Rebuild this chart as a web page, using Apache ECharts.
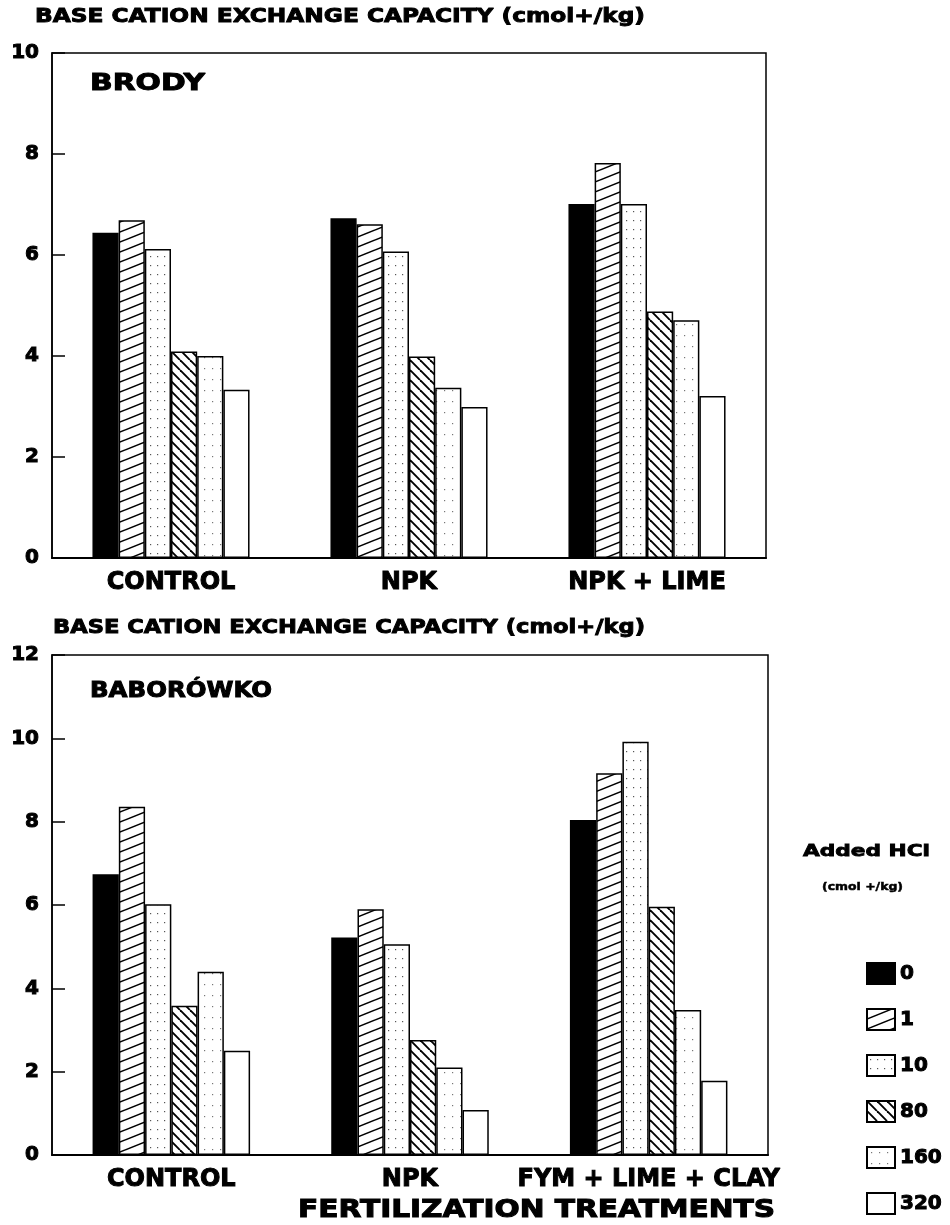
<!DOCTYPE html>
<html>
<head>
<meta charset="utf-8">
<script src="https://cdn.jsdelivr.net/npm/echarts@6/dist/echarts.min.js"></script>
<style>html,body{margin:0;padding:0;background:#fff;}#c{width:950px;height:1225px;}</style>
</head>
<body>
<div id="c"></div>
<script>
// ---- data ----
const hclLevels = ['0', '1', '10', '80', '160', '320'];
const brodyCategories = ['CONTROL', 'NPK', 'NPK + LIME'];
const baborowkoCategories = ['CONTROL', 'NPK', 'FYM + LIME + CLAY'];
// Brody values per HCl level (CONTROL, NPK, NPK + LIME)
const brody0   = [6.44, 6.73, 7.01];
const brody1   = [6.69, 6.61, 7.82];
const brody10  = [6.12, 6.07, 7.01];
const brody80  = [4.09, 3.99, 4.88];
const brody160 = [4.00, 3.37, 4.71];
const brody320 = [3.33, 2.99, 3.21];
// Baborówko values per HCl level (CONTROL, NPK, FYM + LIME + CLAY)
const babo0   = [6.74, 5.22, 8.04];
const babo1   = [8.36, 5.90, 9.16];
const babo10  = [6.02, 5.06, 9.92];
const babo80  = [3.58, 2.76, 5.96];
const babo160 = [4.40, 2.10, 3.48];
const babo320 = [2.50, 1.08, 1.78];
const brodyTicks = [0, 2, 4, 6, 8, 10];
const baboTicks = [0, 2, 4, 6, 8, 10, 12];

// ---- patterns ----
function makeCanvas(w, h) { const c = document.createElement('canvas'); c.width = w; c.height = h; return c; }
function hatchUp() {
  const c = makeCanvas(25, 10), g = c.getContext('2d');
  g.fillStyle = '#fff'; g.fillRect(0, 0, 25, 10);
  g.strokeStyle = '#000'; g.lineWidth = 1.5;
  for (const off of [-10, 0, 10]) { g.beginPath(); g.moveTo(0, 10 + off); g.lineTo(25, 0 + off); g.stroke(); }
  return c;
}
function hatchDown() {
  const c = makeCanvas(10, 10), g = c.getContext('2d');
  g.fillStyle = '#fff'; g.fillRect(0, 0, 10, 10);
  g.strokeStyle = '#000'; g.lineWidth = 1.9;
  for (const off of [-10, 0, 10]) { g.beginPath(); g.moveTo(off, 0); g.lineTo(off + 10, 10); g.stroke(); }
  return c;
}
function dots(w, h, col) {
  const c = makeCanvas(w, h), g = c.getContext('2d');
  g.fillStyle = '#fff'; g.fillRect(0, 0, w, h);
  g.fillStyle = col; g.fillRect(Math.floor(w / 2), Math.floor(h / 2), 1.2, 1.2);
  return c;
}
const fills = [
  '#000',
  { image: hatchUp(), repeat: 'repeat' },
  { image: dots(7, 9, '#555'), repeat: 'repeat' },
  { image: hatchDown(), repeat: 'repeat' },
  { image: dots(8, 11, '#777'), repeat: 'repeat' },
  '#fff'
];

const FONT = '"DejaVu Sans", "Liberation Sans", sans-serif';
function fit(text, size, target) {
  const g = document.createElement('canvas').getContext('2d');
  g.font = 'bold ' + size + 'px ' + FONT;
  return target / g.measureText(text).width;
}
function label(text, x, y, size, width, heavy) {
  return { type: 'text', x: x, y: y, scaleX: fit(text, size, width), z: 10,
    style: { text: text, fontSize: size, fontWeight: 'bold', fontFamily: FONT, fill: '#000',
      stroke: '#000', lineWidth: heavy, align: 'left', verticalAlign: 'middle' } };
}

const brodySeries = [brody0, brody1, brody10, brody80, brody160, brody320];
const baboSeries = [babo0, babo1, babo10, babo80, babo160, babo320];

const series = [];
hclLevels.forEach((name, i) => {
  const style = { color: fills[i], borderColor: '#000', borderWidth: 1.5 };
  series.push({ name: name, type: 'bar', xAxisIndex: 0, yAxisIndex: 0, data: brodySeries[i],
    barGap: '0%', barCategoryGap: '34%', itemStyle: style, emphasis: { disabled: true } });
  series.push({ name: name, type: 'bar', xAxisIndex: 1, yAxisIndex: 1, data: baboSeries[i],
    barGap: '0%', barCategoryGap: '34%', itemStyle: style, emphasis: { disabled: true } });
});

const axisLabelY = { color: '#000', fontSize: 20, fontWeight: 'bold', fontFamily: FONT, margin: 13,
  textBorderColor: '#000', textBorderWidth: 1 };
const axisLabelX = { color: '#000', fontSize: 24, fontWeight: 'bold', fontFamily: FONT, margin: 13, interval: 0,
  textBorderColor: '#000', textBorderWidth: 1 };

const option = {
  animation: false,
  backgroundColor: '#fff',
  grid: [
    { left: 52, top: 53, width: 714, height: 505, show: true, borderColor: '#000', borderWidth: 1.5, containLabel: false },
    { left: 52, top: 655, width: 716, height: 500, show: true, borderColor: '#000', borderWidth: 1.5, containLabel: false }
  ],
  xAxis: [
    { type: 'category', gridIndex: 0, data: brodyCategories, axisTick: { show: false },
      axisLine: { lineStyle: { color: '#000', width: 2 } }, axisLabel: axisLabelX },
    { type: 'category', gridIndex: 1, data: baborowkoCategories, axisTick: { show: false },
      axisLine: { lineStyle: { color: '#000', width: 2 } }, axisLabel: axisLabelX }
  ],
  yAxis: [
    { type: 'value', gridIndex: 0, min: brodyTicks[0], max: brodyTicks[brodyTicks.length - 1], interval: 2,
      splitLine: { show: false }, axisLine: { show: true, lineStyle: { color: '#000', width: 1.5 } },
      axisTick: { show: true, inside: true, length: 13, lineStyle: { color: '#000', width: 1.5 } }, axisLabel: axisLabelY },
    { type: 'value', gridIndex: 1, min: baboTicks[0], max: baboTicks[baboTicks.length - 1], interval: 2,
      splitLine: { show: false }, axisLine: { show: true, lineStyle: { color: '#000', width: 1.5 } },
      axisTick: { show: true, inside: true, length: 13, lineStyle: { color: '#000', width: 1.5 } }, axisLabel: axisLabelY }
  ],
  legend: {
    orient: 'vertical', left: 861, top: 957, itemWidth: 28, itemHeight: 21, itemGap: 23,
    icon: 'rect', selectedMode: false, data: hclLevels,
    textStyle: { color: '#000', fontSize: 20, fontWeight: 'bold', fontFamily: FONT,
      textBorderColor: '#000', textBorderWidth: 1 }
  },
  graphic: [
    label('BASE CATION EXCHANGE CAPACITY (cmol+/kg)', 35, 17, 19, 610, 0.9),
    label('BRODY', 90, 84, 23, 115, 1),
    label('BASE CATION EXCHANGE CAPACITY (cmol+/kg)', 53, 628, 19, 592, 0.9),
    label('BABORÓWKO', 90, 691, 22, 182, 1),
    label('FERTILIZATION TREATMENTS', 298, 1211, 24, 477, 1),
    label('Added HCl', 803, 852, 16, 127, 0.8),
    label('(cmol +/kg)', 822, 887, 11, 81, 0.5)
  ],
  series: series
};
const chart = echarts.init(document.getElementById('c'), null, { renderer: 'canvas' });
chart.setOption(option);
</script>
</body>
</html>
